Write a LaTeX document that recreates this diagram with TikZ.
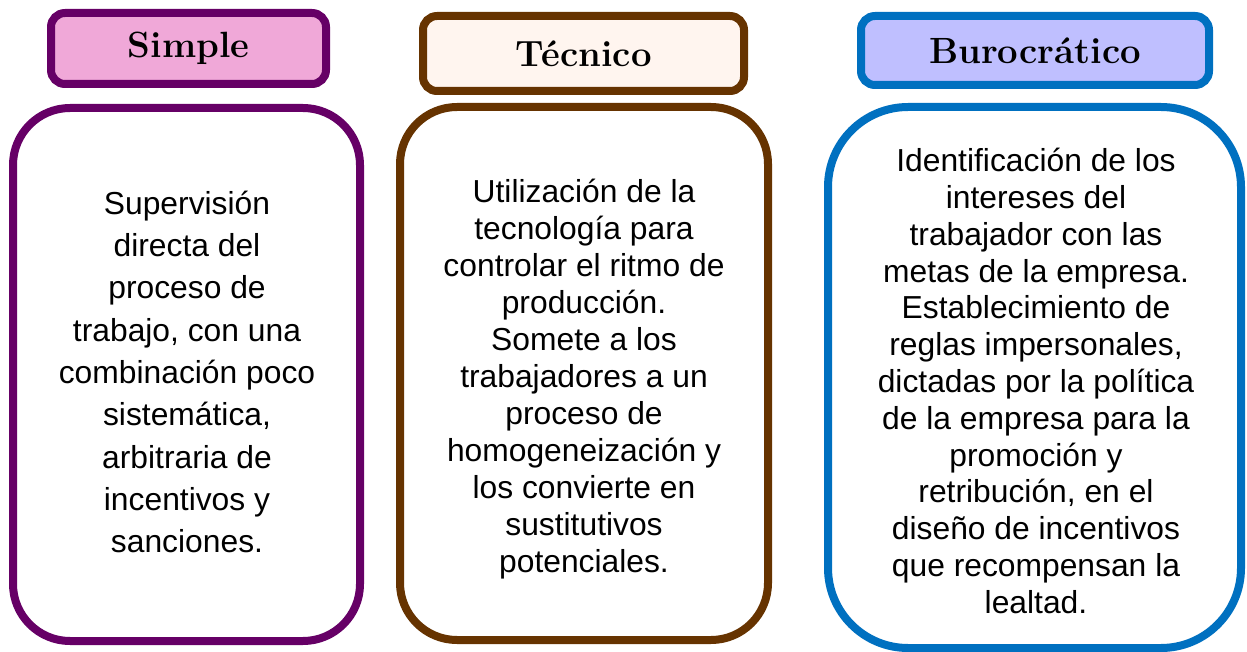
\documentclass[tikz,border=0pt]{standalone}
\usepackage{fontspec}
\setmainfont{Liberation Sans}
\newfontfamily\headfont{Latin Modern Roman}
\definecolor{cpurple}{HTML}{660066}
\definecolor{cpink}{HTML}{F0A8D8}
\definecolor{cbrown}{HTML}{663300}
\definecolor{ccream}{HTML}{FFF5EF}
\definecolor{cblue}{HTML}{0070C0}
\definecolor{clav}{HTML}{BFBFFF}
\tikzset{
  headbox/.style={line width=8pt, rounded corners=14pt},
  bodybox/.style={line width=8pt, fill=white},
  headtxt/.style={font=\headfont\bfseries\fontsize{36.5}{40}\selectfont, text=black},
  bodytxt/.style={font=\fontsize{31.8}{37}\selectfont, align=center, text=black, inner sep=0pt},
}
\begin{document}
\begin{tikzpicture}[x=1pt,y=-1pt]
\useasboundingbox (0,0) rectangle (1247,652);
% headers
\draw[headbox, draw=cpurple, fill=cpink] (51,13) rectangle (326,84);
\node[headtxt] (h1) at (188.5,48.5) {Simple};
\draw[headbox, draw=cbrown, fill=ccream] (423,16) rectangle (744,91);
\node[headtxt] (h2) at (583.5,53.5) {Técnico};
\draw[headbox, draw=cblue, fill=clav] (861,16) rectangle (1209,85);
\node[headtxt] (h3) at (1035,50.5) {Burocrático};
% bodies
\draw[bodybox, draw=cpurple, rounded corners=57pt] (13,108) rectangle (360,641);
\draw[bodybox, draw=cbrown, rounded corners=57pt] (400,107) rectangle (768,640);
\draw[bodybox, draw=cblue, rounded corners=80pt] (828,107) rectangle (1241,648);
\node[bodytxt, font=\fontsize{31.8}{42.3}\selectfont] (b1) at (187,372) {Supervisión\\directa del\\proceso de\\trabajo, con una\\combinación poco\\sistemática,\\arbitraria de\\incentivos y\\sanciones.};
\node[bodytxt] (b2) at (584,379) {Utilización de la\\tecnología para\\controlar el ritmo de\\producción.\\Somete a los\\trabajadores a un\\proceso de\\homogeneización y\\los convierte en\\sustitutivos\\potenciales.};
\node[bodytxt, font=\fontsize{31.8}{36.8}\selectfont] (b3) at (1036,381) {Identificación de los\\intereses del\\trabajador con las\\metas de la empresa.\\Establecimiento de\\reglas impersonales,\\dictadas por la política\\de la empresa para la\\promoción y\\retribución, en el\\diseño de incentivos\\que recompensan la\\lealtad.};
\end{tikzpicture}
\end{document}
